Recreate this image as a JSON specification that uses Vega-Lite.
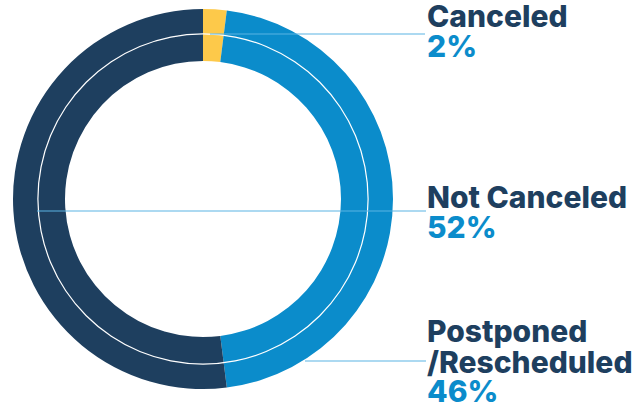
{
  "$schema": "https://vega.github.io/schema/vega-lite/v6.json",
  "width": 406,
  "height": 398,
  "autosize": "none",
  "padding": {"left": 0, "top": 0, "right": 238, "bottom": 14},
  "background": "white",
  "config": {"view": {"stroke": null}},
  "datasets": {
    "slices": [
      {"category": "Canceled", "share": 2, "idx": 1},
      {"category": "Postponed/Rescheduled", "share": 46, "idx": 2},
      {"category": "Not Canceled", "share": 52, "idx": 3}
    ],
    "ring": [{"share": 100}],
    "leaders": [
      {"x": 7, "x2": 222, "y": 165},
      {"x": -166, "x2": 223, "y": -12},
      {"x": 102, "x2": 223, "y": -162}
    ],
    "labels": [
      {"text": "Canceled", "x": 224, "y": 172, "kind": "name"},
      {"text": "2%", "x": 224, "y": 142, "kind": "pct"},
      {"text": "Not Canceled", "x": 224, "y": -9, "kind": "name"},
      {"text": "52%", "x": 224, "y": -39, "kind": "pct"},
      {"text": "Postponed", "x": 224, "y": -143, "kind": "name"},
      {"text": "/Rescheduled", "x": 224, "y": -174, "kind": "name"},
      {"text": "46%", "x": 224, "y": -203, "kind": "pct"}
    ]
  },
  "layer": [
    {
      "data": {"name": "slices"},
      "mark": {"type": "arc", "outerRadius": 190, "innerRadius": 138},
      "encoding": {
        "theta": {"field": "share", "type": "quantitative", "stack": true},
        "order": {"field": "idx", "type": "quantitative"},
        "color": {
          "field": "category",
          "type": "nominal",
          "scale": {
            "domain": ["Canceled", "Postponed/Rescheduled", "Not Canceled"],
            "range": ["#fdc94a", "#0b8ccb", "#1e3f5f"]
          },
          "legend": null
        }
      }
    },
    {
      "data": {"name": "ring"},
      "mark": {"type": "arc", "outerRadius": 165.7, "innerRadius": 164.5, "color": "white"},
      "encoding": {
        "theta": {"field": "share", "type": "quantitative"}
      }
    },
    {
      "data": {"name": "leaders"},
      "mark": {"type": "rule", "color": "#5ab4e3", "strokeWidth": 1.2},
      "encoding": {
        "x": {"field": "x", "type": "quantitative", "scale": {"domain": [-203, 203]}, "axis": null},
        "x2": {"field": "x2"},
        "y": {"field": "y", "type": "quantitative", "scale": {"domain": [-199, 199]}, "axis": null}
      }
    },
    {
      "data": {"name": "labels"},
      "mark": {"type": "text", "align": "left", "baseline": "alphabetic", "font": "Inter", "fontWeight": 800, "fontSize": 30},
      "encoding": {
        "x": {"field": "x", "type": "quantitative", "scale": {"domain": [-203, 203]}, "axis": null},
        "y": {"field": "y", "type": "quantitative", "scale": {"domain": [-199, 199]}, "axis": null},
        "text": {"field": "text"},
        "color": {
          "field": "kind",
          "type": "nominal",
          "scale": {"domain": ["name", "pct"], "range": ["#1e3f5f", "#0b8ccb"]},
          "legend": null
        }
      }
    }
  ],
  "resolve": {"scale": {"color": "independent"}}
}
